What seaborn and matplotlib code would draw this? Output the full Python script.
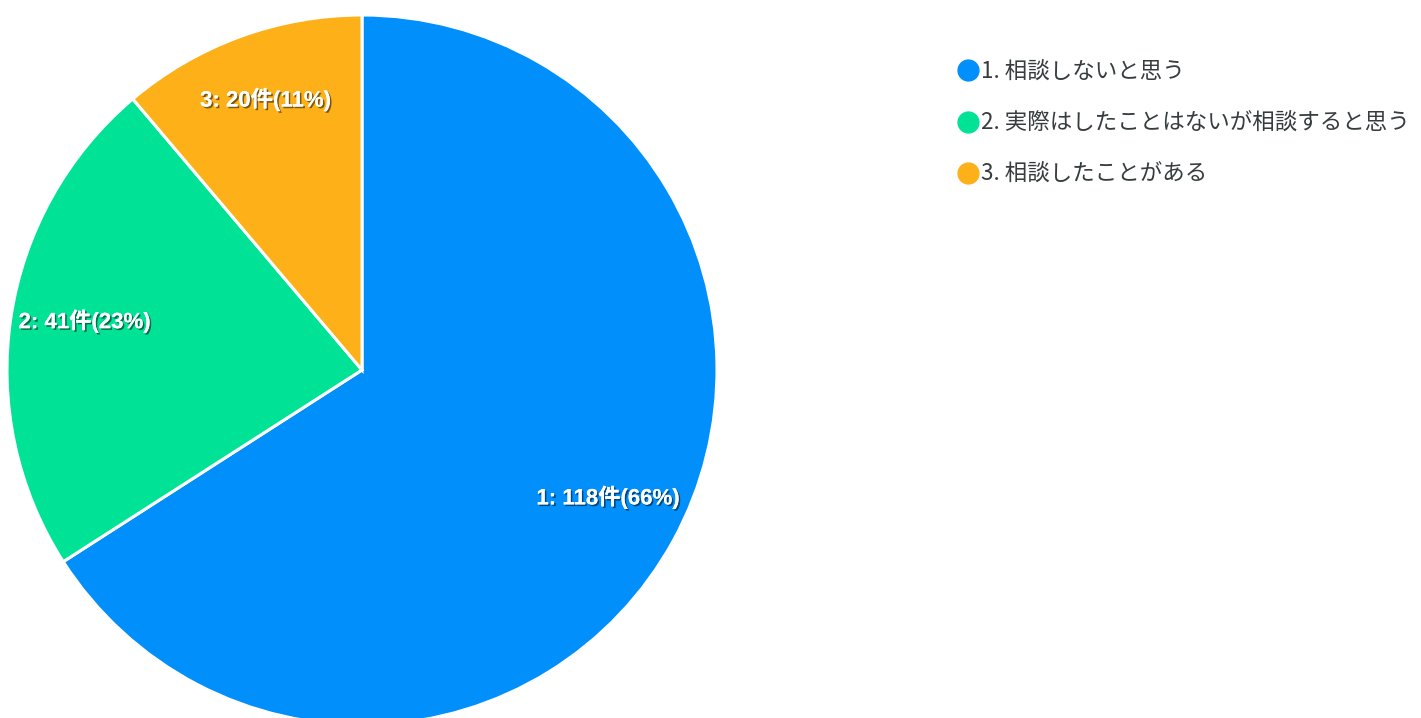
import matplotlib
matplotlib.use("Agg")
import matplotlib.pyplot as plt
import matplotlib.patheffects as pe
from matplotlib.lines import Line2D
import seaborn as sns

# Survey answers
categories = ["1. 相談しないと思う", "2. 実際はしたことはないが相談すると思う", "3. 相談したことがある"]
short_ids = ["1", "2", "3"]
counts = [118, 41, 20]
colors = ["#008FFB", "#00E396", "#FEB019"]

sns.set_theme(style="white")
plt.rcParams["font.family"] = ["Liberation Sans", "Noto Sans CJK JP"]

W, H = 1421, 718
fig = plt.figure(figsize=(W / 100, H / 100), dpi=100)
ax = fig.add_axes([0, 0, 1, 1])

cx, cy, r = 362, H - 370, 355
total = sum(counts)
labels = [f"{i}: {c}件({round(c / total * 100)}%)" for i, c in zip(short_ids, counts)]

wedges, texts = ax.pie(
    counts,
    colors=colors,
    startangle=90,
    counterclock=False,
    center=(cx, cy),
    radius=r,
    labels=labels,
    labeldistance=0.79,
    wedgeprops=dict(edgecolor="white", linewidth=2.2),
    textprops=dict(color="white", fontsize=16, fontweight="bold",
                   family=["Liberation Sans", "Noto Sans CJK JP"]),
    frame=True,
)
for t in texts:
    x, y = t.get_position()
    t.set_position((x, y + 7))
    t.set_ha("center")
    t.set_va("center")
    t.set_path_effects([pe.withSimplePatchShadow(offset=(1.2, -1.2), shadow_rgbFace="black", alpha=0.5),
                        pe.Normal()])
ax.set_xlim(0, W)
ax.set_ylim(0, H)
ax.set_aspect("equal")
ax.axis("off")

handles = [Line2D([0], [0], marker="o", linestyle="none", markersize=15,
                  markerfacecolor=c, markeredgecolor=c) for c in colors]
leg = fig.legend(handles, categories, loc="upper left",
                 bbox_to_anchor=(948 / W, 1 - 49 / H),
                 frameon=False, labelspacing=1.25,
                 handlelength=0.75, handletextpad=0.2, borderpad=0,
                 prop=dict(family=["Noto Sans CJK JP", "Liberation Sans"], size=16.2))
for t in leg.get_texts():
    t.set_color("#373D3F")

fig.savefig("out.png", dpi=100)
